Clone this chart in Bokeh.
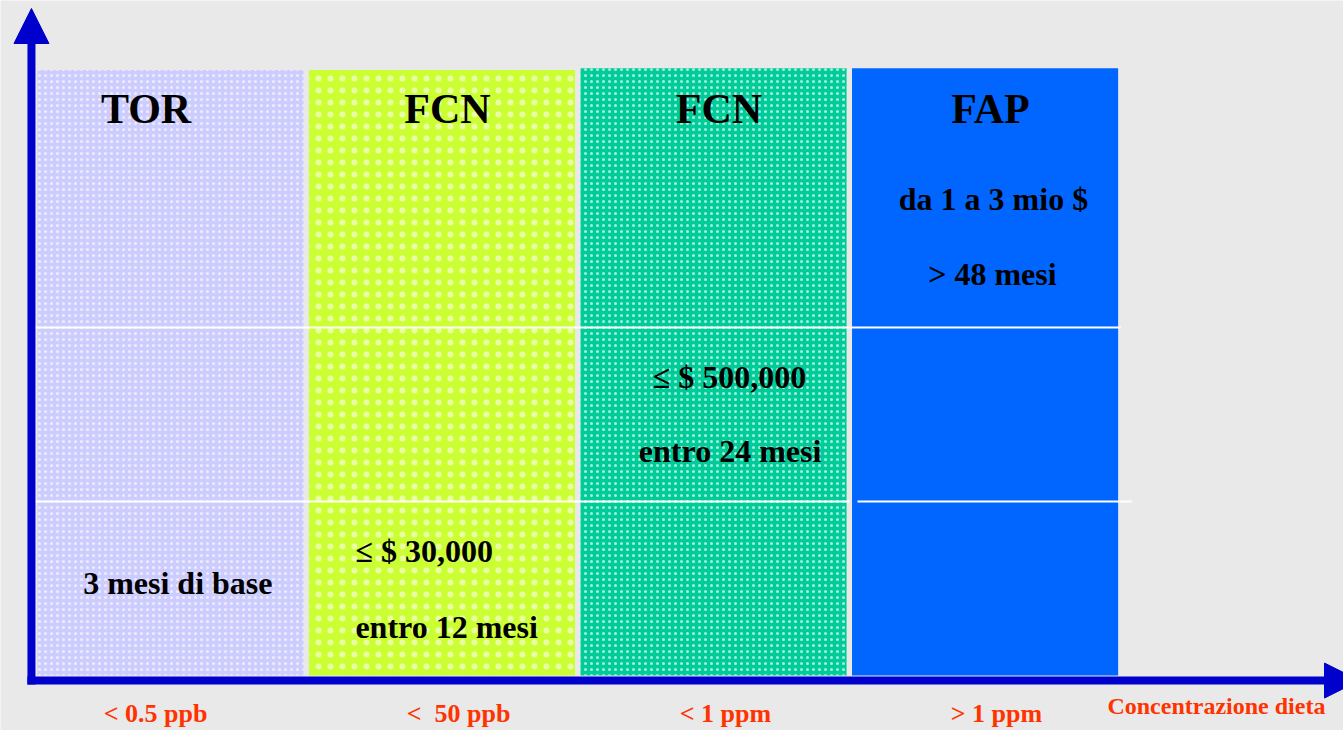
from bokeh.plotting import figure
from bokeh.models import Range1d, Arrow, NormalHead, ColumnDataSource
from bokeh.core.properties import value
from bokeh.embed import file_html
from bokeh.resources import INLINE

# ---- data ----
columns = ["TOR", "FCN", "FCN", "FAP"]
col_index = [0, 1, 2, 3]
col_top = [3.48, 3.48, 3.49, 3.49]
concentrations = ["< 0.5 ppb", "< \u00a050 ppb", "< 1 ppm", "> 1 ppm"]
axis_title = "Concentrazione dieta"
row_levels = [1, 2]
cell_texts = ["3 mesi di base", "\u2264 $ 30,000", "entro 12 mesi",
              "\u2264 $ 500,000", "entro 24 mesi", "da 1 a 3 mio $", "> 48 mesi"]

# ---- styles ----
fills = ["#CCCCFF", "#CCFF33", "#00CC99", "#0066FF"]
hatches = [".", ".", ".", " "]
hatch_scales = [6, 12, 6, 6]
hatch_alphas = [0.65, 0.55, 0.65, 0.0]
AXIS = "#0000CC"
RED = "#FF3300"
BG = "#E9E9E9"
FONT = value("Liberation Serif")
pad = 0.01

p = figure(width=1343, height=730, output_backend="svg", toolbar_location=None,
           x_range=Range1d(-0.126, 4.820), y_range=Range1d(-0.316, 3.879),
           min_border=0, background_fill_color=BG, border_fill_color=BG)
p.axis.visible = False
p.grid.visible = False
p.outline_line_color = None

src = ColumnDataSource(dict(
    left=[i + pad for i in col_index],
    right=[i + 1 - pad for i in col_index],
    top=col_top,
    bottom=[0] * 4,
    fill=fills,
    hatch=hatches,
    hscale=hatch_scales,
    halpha=hatch_alphas,
))
p.quad(left="left", right="right", top="top", bottom="bottom", source=src,
       fill_color="fill", line_color=None, hatch_pattern="hatch",
       hatch_scale="hscale", hatch_color="white", hatch_weight=0.7,
       hatch_alpha="halpha")

# row separators
p.segment(x0=[0.0, 0.0, 3.03], x1=[4.0, 3.0, 4.04],
          y0=[row_levels[1], row_levels[0], row_levels[0]],
          y1=[row_levels[1], row_levels[0], row_levels[0]],
          line_color="white", line_width=2)

# column headers
p.text(x=[i + 0.5 - 0.09 if i == 0 else i + 0.5 + 0.02 for i in col_index],
       y=[3.253] * 4, text=columns, text_font=FONT, text_font_style="bold",
       text_font_size="42px", text_align="center", text_baseline="middle",
       text_color="black")

# cell texts
tx = [0.527, 1.181, 1.181, 2.559, 2.561, 3.531, 3.527]
ty = [0.534, 0.718, 0.276, 1.718, 1.293, 2.741, 2.305]
ta = ["center", "left", "left", "center", "center", "center", "center"]
p.text(x=tx, y=ty, text=cell_texts, text_font=FONT, text_font_style="bold",
       text_font_size="32px", text_align=ta, text_baseline="middle",
       text_color="black")

# axis labels
p.text(x=[0.445, 1.561, 2.544, 3.542], y=[-0.218] * 4, text=concentrations,
       text_font=FONT, text_font_style="bold", text_font_size="26px",
       text_align="center", text_baseline="middle", text_color=RED)
p.text(x=[4.352], y=[-0.178], text=[axis_title], text_font=FONT,
       text_font_style="bold", text_font_size="24px", text_align="center",
       text_baseline="middle", text_color=RED)

# axes arrows
p.add_layout(Arrow(end=NormalHead(size=35, fill_color=AXIS, line_color=AXIS),
                   x_start=-0.012, y_start=-0.052, x_end=-0.012, y_end=3.833,
                   line_color=AXIS, line_width=8))
p.add_layout(Arrow(end=NormalHead(size=35, fill_color=AXIS, line_color=AXIS),
                   x_start=-0.027, y_start=-0.029, x_end=4.879, y_end=-0.029,
                   line_color=AXIS, line_width=8))

open("out.html", "w").write(file_html(p, INLINE))
